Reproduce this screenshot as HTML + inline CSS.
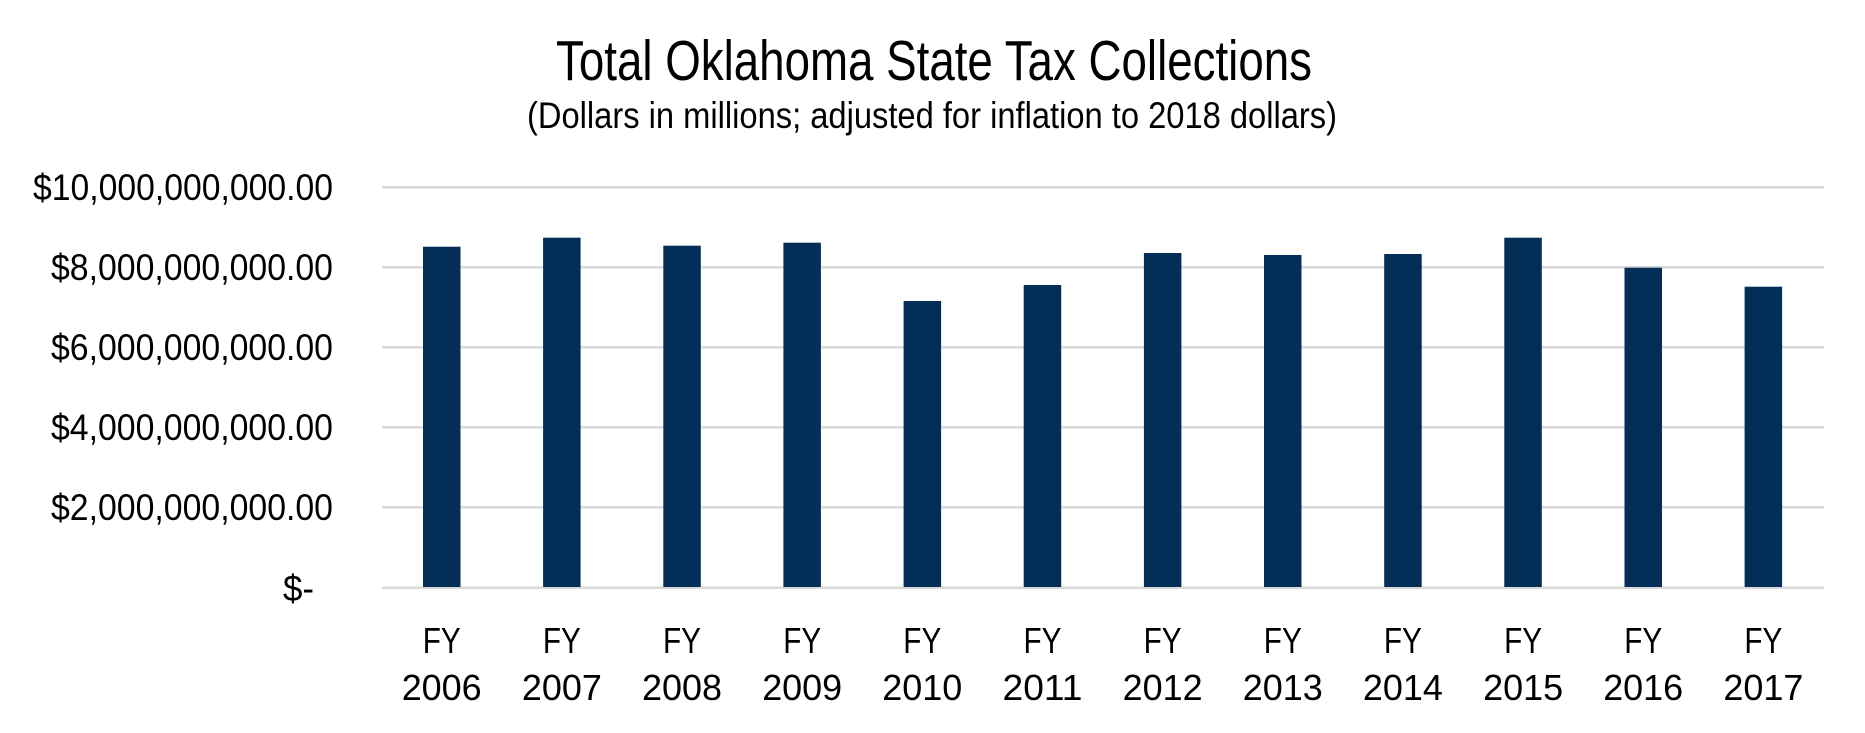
<!DOCTYPE html>
<html>
<head>
<meta charset="utf-8">
<style>
  html, body { margin: 0; padding: 0; background: #ffffff; }
  body { width: 1865px; height: 733px; overflow: hidden; }
  svg { display: block; }
  text { font-family: "Liberation Sans", Arial, sans-serif; fill: #000; }
  .narrow { font-family: "Liberation Sans Narrow", "Liberation Sans", Arial, sans-serif; }
</style>
</head>
<body>
<svg width="1865" height="733" viewBox="0 0 1865 733" xmlns="http://www.w3.org/2000/svg">
  <rect x="0" y="0" width="1865" height="733" fill="#ffffff"/>

  <!-- Title -->
  <text class="narrow" x="556" y="80" font-size="57" textLength="756" lengthAdjust="spacingAndGlyphs">Total Oklahoma State Tax Collections</text>
  <text class="narrow" x="527" y="128" font-size="37" textLength="810" lengthAdjust="spacingAndGlyphs">(Dollars in millions; adjusted for inflation to 2018 dollars)</text>

  <!-- Gridlines -->
  <g fill="#d9d9d9">
    <rect x="382" y="186" width="1442" height="2.6"/>
    <rect x="382" y="266" width="1442" height="2.6"/>
    <rect x="382" y="346" width="1442" height="2.6"/>
    <rect x="382" y="426" width="1442" height="2.6"/>
    <rect x="382" y="506" width="1442" height="2.6"/>
    <rect x="382" y="586.5" width="1442" height="2.6"/>
  </g>

  <!-- Y axis labels -->
  <g font-size="37">
    <text x="33" y="200" textLength="300" lengthAdjust="spacingAndGlyphs">$10,000,000,000.00</text>
    <text x="51" y="280" textLength="282" lengthAdjust="spacingAndGlyphs">$8,000,000,000.00</text>
    <text x="51" y="360" textLength="282" lengthAdjust="spacingAndGlyphs">$6,000,000,000.00</text>
    <text x="51" y="440" textLength="282" lengthAdjust="spacingAndGlyphs">$4,000,000,000.00</text>
    <text x="51" y="520" textLength="282" lengthAdjust="spacingAndGlyphs">$2,000,000,000.00</text>
    <text x="283" y="601" textLength="31" lengthAdjust="spacingAndGlyphs">$-</text>
  </g>

  <!-- Bars -->
  <g fill="#032e57">
    <rect x="423.0" y="246.7" width="37.5" height="340.3"/>
    <rect x="543.1" y="237.7" width="37.5" height="349.3"/>
    <rect x="663.3" y="245.7" width="37.5" height="341.3"/>
    <rect x="783.4" y="242.7" width="37.5" height="344.3"/>
    <rect x="903.6" y="301.0" width="37.5" height="286.0"/>
    <rect x="1023.7" y="285.0" width="37.5" height="302.0"/>
    <rect x="1143.9" y="253.0" width="37.5" height="334.0"/>
    <rect x="1264.0" y="255.0" width="37.5" height="332.0"/>
    <rect x="1384.2" y="254.0" width="37.5" height="333.0"/>
    <rect x="1504.3" y="237.7" width="37.5" height="349.3"/>
    <rect x="1624.5" y="267.7" width="37.5" height="319.3"/>
    <rect x="1744.6" y="286.7" width="37.5" height="300.3"/>
  </g>

  <!-- X axis labels -->
  <g font-size="36" text-anchor="middle">
    <text x="441.7" y="653" textLength="38" lengthAdjust="spacingAndGlyphs">FY</text><text x="441.7" y="700" textLength="80" lengthAdjust="spacingAndGlyphs">2006</text>
    <text x="561.9" y="653" textLength="38" lengthAdjust="spacingAndGlyphs">FY</text><text x="561.9" y="700" textLength="80" lengthAdjust="spacingAndGlyphs">2007</text>
    <text x="682.0" y="653" textLength="38" lengthAdjust="spacingAndGlyphs">FY</text><text x="682.0" y="700" textLength="80" lengthAdjust="spacingAndGlyphs">2008</text>
    <text x="802.2" y="653" textLength="38" lengthAdjust="spacingAndGlyphs">FY</text><text x="802.2" y="700" textLength="80" lengthAdjust="spacingAndGlyphs">2009</text>
    <text x="922.3" y="653" textLength="38" lengthAdjust="spacingAndGlyphs">FY</text><text x="922.3" y="700" textLength="80" lengthAdjust="spacingAndGlyphs">2010</text>
    <text x="1042.5" y="653" textLength="38" lengthAdjust="spacingAndGlyphs">FY</text><text x="1042.5" y="700" textLength="80" lengthAdjust="spacingAndGlyphs">2011</text>
    <text x="1162.6" y="653" textLength="38" lengthAdjust="spacingAndGlyphs">FY</text><text x="1162.6" y="700" textLength="80" lengthAdjust="spacingAndGlyphs">2012</text>
    <text x="1282.8" y="653" textLength="38" lengthAdjust="spacingAndGlyphs">FY</text><text x="1282.8" y="700" textLength="80" lengthAdjust="spacingAndGlyphs">2013</text>
    <text x="1402.9" y="653" textLength="38" lengthAdjust="spacingAndGlyphs">FY</text><text x="1402.9" y="700" textLength="80" lengthAdjust="spacingAndGlyphs">2014</text>
    <text x="1523.1" y="653" textLength="38" lengthAdjust="spacingAndGlyphs">FY</text><text x="1523.1" y="700" textLength="80" lengthAdjust="spacingAndGlyphs">2015</text>
    <text x="1643.2" y="653" textLength="38" lengthAdjust="spacingAndGlyphs">FY</text><text x="1643.2" y="700" textLength="80" lengthAdjust="spacingAndGlyphs">2016</text>
    <text x="1763.4" y="653" textLength="38" lengthAdjust="spacingAndGlyphs">FY</text><text x="1763.4" y="700" textLength="80" lengthAdjust="spacingAndGlyphs">2017</text>
  </g>
</svg>
</body>
</html>
